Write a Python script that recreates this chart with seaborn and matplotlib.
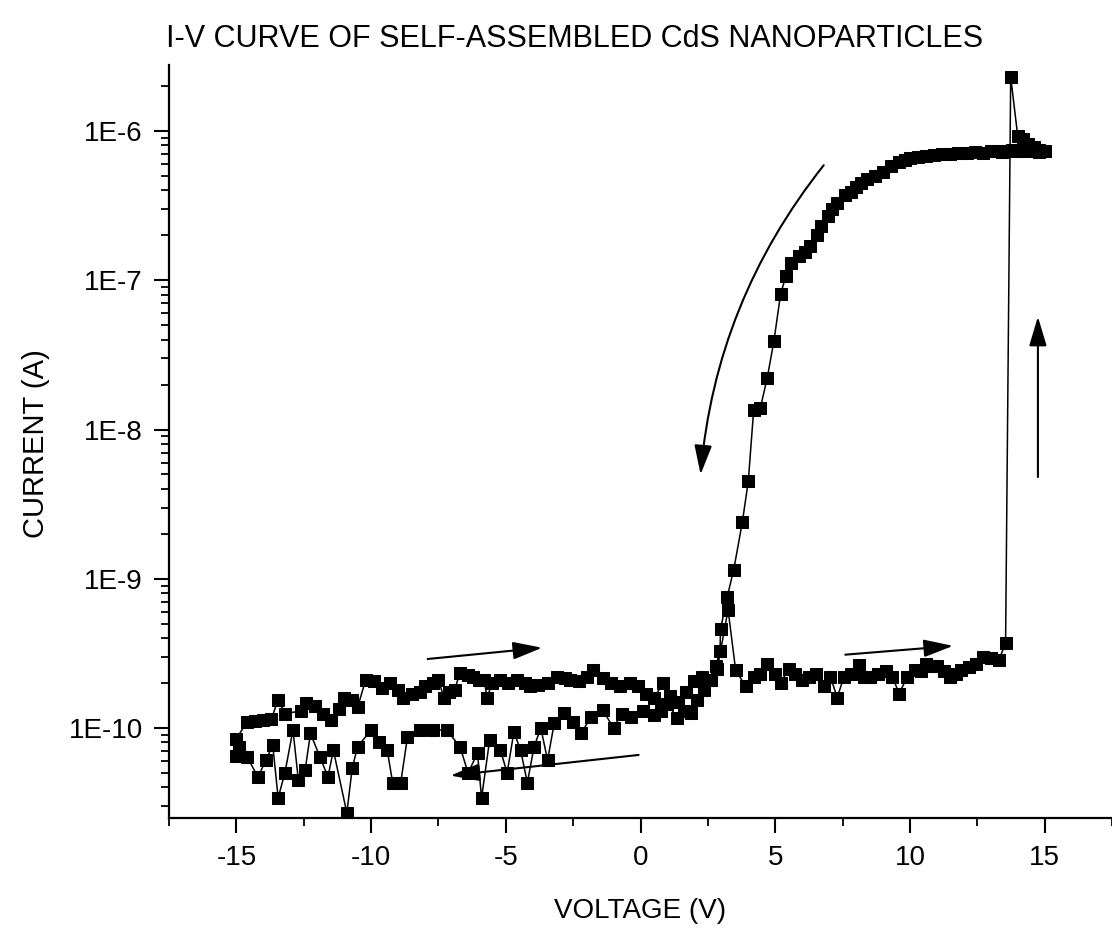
import numpy as np
import pandas as pd
import seaborn as sns
import matplotlib
matplotlib.use("Agg")
import matplotlib.pyplot as plt
from matplotlib.ticker import FuncFormatter, LogLocator, MultipleLocator, NullFormatter

# forward sweep (-15 V -> +15 V)
v_fwd = [-15.0, -14.6, -14.3, -14.0, -13.7, -13.45, -13.2, -12.6, -12.4, -12.1,
         -11.8, -11.5, -11.2, -11.0, -10.7, -10.5, -10.2, -9.9, -9.6, -9.3,
         -9.0, -8.8, -8.5, -8.2, -8.0, -7.7, -7.5, -7.3, -7.1, -6.9,
         -6.7, -6.4, -6.2, -6.0, -5.8, -5.7, -5.5, -5.2, -4.9, -4.6,
         -4.3, -4.1, -3.8, -3.45, -3.1, -2.8, -2.6, -2.3, -2.0, -1.75,
         -1.4, -1.1, -0.75, -0.4, -0.1, 0.2, 0.5, 0.85, 1.1, 1.4,
         1.7, 2.0, 2.3, 2.6, 2.85, 3.25, 3.53, 3.9, 4.2, 4.45,
         4.7, 5.0, 5.2, 5.5, 5.75, 6.0, 6.25, 6.5, 6.8, 7.05,
         7.3, 7.55, 7.8, 8.1, 8.3, 8.5, 8.8, 9.1, 9.35, 9.6,
         9.9, 10.2, 10.4, 10.6, 10.8, 11.0, 11.25, 11.5, 11.7, 11.9,
         12.2, 12.45, 12.7, 13.0, 13.3, 13.55, 13.74, 14.0, 14.2, 14.4,
         14.6, 14.8, 15.0]
i_fwd = [8.5e-11, 1.1e-10, 1.12e-10, 1.13e-10, 1.15e-10, 1.55e-10, 1.25e-10, 1.3e-10, 1.47e-10, 1.4e-10,
         1.25e-10, 1.13e-10, 1.35e-10, 1.6e-10, 1.55e-10, 1.38e-10, 2.1e-10, 2.05e-10, 1.85e-10, 2.0e-10,
         1.8e-10, 1.6e-10, 1.7e-10, 1.75e-10, 1.9e-10, 2.0e-10, 2.1e-10, 1.6e-10, 1.75e-10, 1.8e-10,
         2.35e-10, 2.25e-10, 2.2e-10, 2.1e-10, 2.1e-10, 1.6e-10, 2.0e-10, 2.1e-10, 2.0e-10, 2.1e-10,
         2.0e-10, 1.9e-10, 1.95e-10, 2.0e-10, 2.2e-10, 2.15e-10, 2.1e-10, 2.05e-10, 2.2e-10, 2.45e-10,
         2.15e-10, 2.0e-10, 1.9e-10, 2.0e-10, 1.9e-10, 1.7e-10, 1.6e-10, 2.0e-10, 1.65e-10, 1.5e-10,
         1.75e-10, 2.05e-10, 2.2e-10, 2.1e-10, 2.5e-10, 6.2e-10, 2.45e-10, 1.9e-10, 2.2e-10, 2.3e-10,
         2.7e-10, 2.3e-10, 2.0e-10, 2.5e-10, 2.3e-10, 2.1e-10, 2.2e-10, 2.3e-10, 1.9e-10, 2.2e-10,
         1.6e-10, 2.2e-10, 2.3e-10, 2.65e-10, 2.2e-10, 2.2e-10, 2.3e-10, 2.4e-10, 2.2e-10, 1.7e-10,
         2.2e-10, 2.45e-10, 2.4e-10, 2.7e-10, 2.6e-10, 2.6e-10, 2.4e-10, 2.2e-10, 2.3e-10, 2.45e-10,
         2.55e-10, 2.7e-10, 3.0e-10, 2.95e-10, 2.85e-10, 3.7e-10, 2.3e-6, 9.3e-7, 8.8e-7, 8.2e-7,
         7.8e-7, 7.5e-7, 7.3e-7]

# reverse sweep (+15 V -> -15 V)
v_rev = [14.8, 14.6, 14.4, 14.2, 14.0, 13.8, 13.6, 13.4, 13.2, 13.0,
         12.7, 12.4, 12.1, 11.8, 11.5, 11.2, 10.9, 10.6, 10.3, 10.0,
         9.8, 9.6, 9.3, 9.0, 8.7, 8.4, 8.2, 8.0, 7.8, 7.6,
         7.3, 7.1, 6.95, 6.7, 6.55, 6.3, 6.1, 5.9, 5.6, 5.4,
         5.2, 4.95, 4.7, 4.45, 4.2, 4.0, 3.78, 3.46, 3.22, 2.97,
         2.95, 2.8, 2.6, 2.35, 2.1, 1.86, 1.6, 1.37, 1.0, 0.75,
         0.5, 0.1, -0.37, -0.7, -1.0, -1.4, -1.85, -2.2, -2.5, -2.85,
         -3.2, -3.45, -3.7, -3.95, -4.2, -4.45, -4.7, -4.95, -5.2, -5.6,
         -5.9, -6.05, -6.4, -6.7, -7.2, -7.7, -8.2, -8.65, -8.9, -9.2,
         -9.4, -9.7, -10.0, -10.5, -10.7, -10.9, -11.4, -11.6, -11.9, -12.25,
         -12.45, -12.7, -12.9, -13.2, -13.45, -13.65, -13.9, -14.2, -14.6, -14.9,
         -15.0]
i_rev = [7.2e-7, 7.4e-7, 7.6e-7, 7.4e-7, 7.3e-7, 7.5e-7, 7.3e-7, 7.2e-7, 7.4e-7, 7.3e-7,
         7.1e-7, 7.2e-7, 7.1e-7, 7.1e-7, 7.0e-7, 7.0e-7, 6.9e-7, 6.8e-7, 6.7e-7, 6.6e-7,
         6.4e-7, 6.2e-7, 5.8e-7, 5.3e-7, 5.0e-7, 4.8e-7, 4.5e-7, 4.2e-7, 3.9e-7, 3.7e-7,
         3.3e-7, 3.0e-7, 2.7e-7, 2.3e-7, 2.0e-7, 1.7e-7, 1.55e-7, 1.45e-7, 1.3e-7, 1.07e-7,
         8.1e-8, 3.9e-8, 2.2e-8, 1.4e-8, 1.35e-8, 4.5e-9, 2.4e-9, 1.15e-9, 7.6e-10, 4.6e-10,
         3.3e-10, 2.6e-10, 2.1e-10, 1.8e-10, 1.55e-10, 1.26e-10, 1.3e-10, 1.17e-10, 1.45e-10, 1.3e-10,
         1.22e-10, 1.3e-10, 1.18e-10, 1.25e-10, 1.0e-10, 1.32e-10, 1.18e-10, 9.2e-11, 1.1e-10, 1.26e-10,
         1.08e-10, 6.1e-11, 1.0e-10, 7.5e-11, 4.3e-11, 7.1e-11, 9.4e-11, 5.0e-11, 7.1e-11, 8.3e-11,
         3.4e-11, 6.8e-11, 5.0e-11, 7.5e-11, 9.7e-11, 9.7e-11, 9.7e-11, 8.7e-11, 4.3e-11, 4.3e-11,
         7.1e-11, 8.0e-11, 9.7e-11, 7.5e-11, 5.4e-11, 2.7e-11, 7.1e-11, 4.7e-11, 6.4e-11, 9.2e-11,
         5.2e-11, 4.5e-11, 9.7e-11, 5.0e-11, 3.4e-11, 7.7e-11, 6.1e-11, 4.7e-11, 6.4e-11, 7.5e-11,
         6.5e-11]

df = pd.DataFrame({"V": v_fwd + v_rev, "I": i_fwd + i_rev})

sns.set_style("ticks")
plt.rcParams["font.family"] = ["Liberation Sans", "DejaVu Sans"]
plt.rcParams["axes.unicode_minus"] = False
for k in ["text.color", "axes.labelcolor", "xtick.color", "ytick.color", "axes.edgecolor"]:
    plt.rcParams[k] = "black"

fig = plt.figure(figsize=(11.12, 9.35), dpi=100)
ax = fig.add_axes([0.152, 0.125, 0.848, 0.8055])

sns.lineplot(data=df, x="V", y="I", sort=False, estimator=None, ax=ax,
             color="black", linewidth=1.1, marker="s", markersize=9,
             markeredgecolor="black", markerfacecolor="black")

ax.set_yscale("log")
ax.set_xlim(-17.5, 17.5)
ax.set_ylim(2.49e-11, 2.77e-6)

ax.xaxis.set_major_locator(MultipleLocator(5))
ax.xaxis.set_minor_locator(MultipleLocator(2.5))
ax.yaxis.set_major_locator(LogLocator(base=10))
ax.yaxis.set_minor_locator(LogLocator(base=10, subs=np.arange(2, 10)))
ax.yaxis.set_major_formatter(FuncFormatter(lambda v, _: f"1E{int(round(np.log10(v)))}"))
ax.yaxis.set_minor_formatter(NullFormatter())

sns.despine(ax=ax)
for s in ["left", "bottom"]:
    ax.spines[s].set_linewidth(1.6)
ax.tick_params(axis="both", which="major", direction="out", length=11, width=1.5,
               labelsize=20, pad=8, colors="black")
ax.tick_params(axis="both", which="minor", direction="out", length=5.5, width=1.3)

ax.set_xlabel("VOLTAGE (V)", fontsize=20, labelpad=20)
ax.yaxis.label.set_visible(False)
fig.text(0.032, 0.526, "CURRENT (A)", rotation=90, fontsize=21, ha="center", va="center")
fig.text(0.517, 0.958, "I-V CURVE OF SELF-ASSEMBLED CdS NANOPARTICLES",
         fontsize=22, ha="center", va="center")

# sweep direction arrows
head = dict(color="black", lw=1.5, shrinkA=0, shrinkB=0, mutation_scale=20)
ax.annotate("", xy=(2.23, 5e-9), xytext=(6.8, 5.9e-7),
            arrowprops=dict(arrowstyle="-|>,head_length=0.9,head_width=0.27",
                            connectionstyle="arc3,rad=0.15", **head))
ax.annotate("", xy=(-3.65, 3.45e-10), xytext=(-7.9, 2.9e-10),
            arrowprops=dict(arrowstyle="-|>,head_length=0.9,head_width=0.27", **head))
ax.annotate("", xy=(-7.05, 4.8e-11), xytext=(-0.07, 6.6e-11),
            arrowprops=dict(arrowstyle="-|>,head_length=0.9,head_width=0.27", **head))
ax.annotate("", xy=(11.6, 3.55e-10), xytext=(7.6, 3.1e-10),
            arrowprops=dict(arrowstyle="-|>,head_length=0.9,head_width=0.27", **head))
ax.annotate("", xy=(14.75, 5.7e-8), xytext=(14.75, 4.8e-9),
            arrowprops=dict(arrowstyle="-|>,head_length=0.9,head_width=0.27", **head))

fig.savefig("out.png", dpi=100)
